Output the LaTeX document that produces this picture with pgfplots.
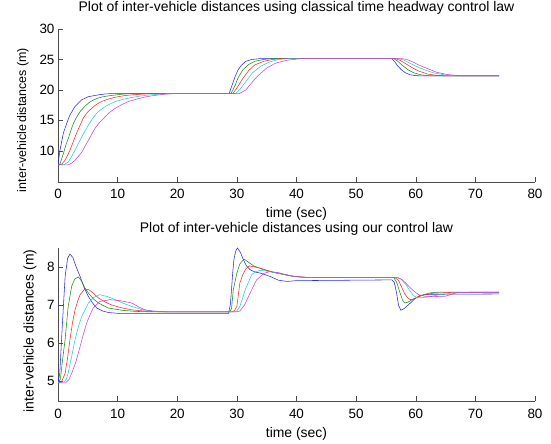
\documentclass[border=0pt]{standalone}
\usepackage{pgfplots}
\pgfplotsset{compat=1.18}
\usepackage{fontspec}
\setmainfont{Liberation Sans}

\definecolor{mblue}{rgb}{0.15,0.15,1}
\definecolor{mgreen}{rgb}{0.1,0.55,0.1}
\definecolor{mred}{rgb}{1,0.15,0.15}
\definecolor{mcyan}{rgb}{0.15,0.8,0.8}
\definecolor{mmag}{rgb}{0.8,0.25,0.85}

\pgfplotsset{
  dist/.style={
    scale only axis,
    width=477bp, height=153bp,
    xmin=0, xmax=80,
    xtick={0,10,...,80},
    axis x line=bottom, axis y line=left,
    axis line style={-, black!70, line width=0.5pt},
    tick style={black!70, line width=0.5pt},
    tick align=inside,
    major tick length=4.5bp,
    /pgf/number format/assume math mode=true,
    tick label style={font=\fontsize{13.5}{15}\selectfont},
    xticklabel style={anchor=base, yshift=-17bp},
    label style={font=\fontsize{14}{16}\selectfont},
    title style={font=\fontsize{14}{16}\selectfont, anchor=base, at={(0.5,1)}},
    xlabel style={at={(0.5,0)}, anchor=base, yshift=-36bp},
    xlabel={time (sec)},
    every axis plot/.append style={line width=0.55pt, mark=none},
  }
}

\begin{document}
\begin{tikzpicture}
\path[use as bounding box] (0,0) rectangle (551bp,444bp);

% classical time headway law
\begin{axis}[dist,
  at={(58bp,262bp)}, anchor=south west,
  ymin=4.9, ymax=30,
  ytick={10,15,20,25,30},
  title={Plot of inter-vehicle distances using classical time headway control law},
  title style={yshift=12bp},
  ylabel={inter-vehicle\,distances (m)},
  ylabel style={at={(axis description cs:0,0.405)}, anchor=center, yshift=35bp,
    font=\fontsize{12.5}{14}\selectfont},
]
\addplot[mblue] coordinates {
(0,7.7)(0.33,10.1)(0.9,12.9)(1.45,14.5)(2.0,15.9)(2.85,17.3)(4,18.4)(5.1,18.9)(6.8,19.2)(8,19.35)(9,19.4)
(28.7,19.4)(29.2,20.8)(29.7,22.2)(30.2,23.3)(30.8,24.1)(31.5,24.7)(32.5,25.0)(34,25.15)
(56,25.15)(56.5,24.6)(57,23.9)(57.6,23.3)(58.3,22.8)(59,22.5)(60,22.35)(61,22.3)(74,22.3)
};
\addplot[mgreen] coordinates {
(0,7.7)(0.3,7.8)(0.9,9.55)(1.3,10.9)(1.73,12.04)(2.15,13.3)(2.57,14.5)(3.1,15.5)(3.7,16.45)(4.4,17.2)
(5.1,17.85)(5.9,18.35)(6.8,18.7)(7.9,18.95)(9,19.1)(10.7,19.3)(12,19.4)
(29,19.4)(29.6,20.5)(30.2,22)(31,23.3)(32,24.2)(33,24.7)(34.5,25)(36,25.15)
(56.3,25.15)(57,24.7)(57.8,24)(58.7,23.3)(59.7,22.8)(61,22.45)(62.5,22.3)(74,22.3)
};
\addplot[mred] coordinates {
(0,7.7)(0.6,7.8)(1.17,8.45)(1.6,9.25)(2.0,10.1)(2.55,11.5)(3.1,12.9)(3.7,14.2)(4.25,15.4)(4.9,16.3)
(5.65,17)(6.4,17.6)(7.3,18.1)(8.4,18.5)(9.6,18.8)(11,19.05)(12.4,19.2)(14,19.3)(15.5,19.4)
(29.3,19.4)(30,20.3)(31,21.9)(32,23.2)(33,24.1)(34.5,24.7)(36,25)(37.5,25.15)
(56.6,25.15)(57.5,24.8)(58.5,24.2)(59.5,23.6)(60.5,23.1)(62,22.6)(63.5,22.4)(65,22.3)(74,22.3)
};
\addplot[mcyan] coordinates {
(0,7.7)(1,7.75)(1.73,8.2)(2.3,9.1)(2.85,10.1)(3.4,11.2)(4,12.3)(4.55,13.3)(5.1,14.25)(5.8,15.3)
(6.5,16.2)(7.4,16.95)(8.4,17.55)(9.5,18.05)(10.7,18.4)(12,18.7)(13.5,18.95)(15,19.15)(16.3,19.25)
(17.5,19.35)(19,19.4)
(29.8,19.4)(30.6,20.2)(31.6,21.5)(32.6,22.8)(34,23.9)(35.5,24.6)(37,25)(39,25.15)
(57,25.15)(58,24.9)(59,24.4)(60,23.9)(61.5,23.3)(63,22.8)(65,22.45)(67,22.3)(74,22.3)
};
\addplot[mmag] coordinates {
(0,7.7)(1.7,7.7)(2.3,8.0)(2.85,8.45)(3.4,9.1)(4,9.8)(4.55,10.8)(5.1,11.75)(5.65,12.75)(6.2,13.7)
(7,14.7)(7.9,15.6)(8.7,16.35)(9.6,17)(10.7,17.6)(11.8,18.1)(13.2,18.5)(14.6,18.85)(16.2,19.1)
(17.9,19.3)(19.5,19.4)
(30.4,19.4)(31.5,20)(32.5,21.2)(33.5,22.3)(35,23.6)(36.5,24.4)(38.5,24.9)(41,25.15)
(57.5,25.15)(58.5,25)(59.5,24.6)(60.5,24.1)(62,23.5)(63.5,22.9)(65.5,22.5)(68,22.3)(74,22.3)
};
\end{axis}

% proposed law
\begin{axis}[dist,
  at={(58bp,43bp)}, anchor=south west,
  ymin=4.47, ymax=8.5,
  ytick={5,6,7,8},
  title={Plot of inter-vehicle distances using our control law},
  title style={yshift=10bp},
  ylabel={inter-vehicle distances (m)},
  ylabel style={at={(axis description cs:0,0.457)}, anchor=center, yshift=28bp},
]
\addplot[mblue] coordinates {
(0,4.95)(0.3,5.2)(0.6,6.1)(0.9,6.95)(1.2,7.75)(1.6,8.22)(2.0,8.34)(2.5,8.25)(3,8.02)(3.7,7.75)
(4.4,7.45)(5.1,7.22)(5.8,7.05)(6.5,6.92)(7.5,6.84)(8.5,6.8)(10,6.78)
(28.6,6.78)(28.9,7.0)(29.1,7.4)(29.3,7.85)(29.5,8.19)(29.8,8.42)(30.1,8.5)(30.6,8.38)(31.1,8.19)
(31.6,8.03)(32.2,7.93)(33,7.87)(33.9,7.84)(35.6,7.75)(37,7.65)(38.4,7.62)(40,7.64)
(56,7.66)(56.4,7.6)(56.8,7.3)(57.1,7.0)(57.5,6.86)(58,6.9)(58.6,6.98)(59.1,7.05)(59.9,7.17)
(60.7,7.25)(62,7.28)(74,7.29)
};
\addplot[mgreen] coordinates {
(0,4.95)(0.4,5.05)(0.8,5.6)(1.2,6.1)(1.7,6.95)(2.3,7.5)(2.8,7.68)(3.4,7.74)(4,7.62)(4.5,7.45)
(5.1,7.31)(6,7.15)(6.8,7.05)(8.4,6.92)(10.7,6.86)(13,6.83)(15,6.82)
(28.8,6.82)(29.1,6.9)(29.4,7.4)(30,7.84)(30.5,8.08)(31.2,8.21)(32,8.12)(32.8,8.03)(34.4,7.93)
(36.7,7.84)(39.5,7.75)(42,7.72)
(56.3,7.72)(56.8,7.6)(57.3,7.35)(57.8,7.12)(58.2,7.05)(58.8,7.08)(59.6,7.16)(60.5,7.22)(61.3,7.27)
(62.5,7.32)(64,7.34)(74,7.34)
};
\addplot[mred] coordinates {
(0,4.95)(0.6,4.98)(1.2,5.2)(1.6,5.6)(2,6.08)(2.4,6.5)(2.85,6.87)(3.3,7.1)(3.7,7.27)(4.5,7.42)
(5.2,7.4)(6,7.3)(6.8,7.18)(8,7.07)(9,7.0)(10.5,6.93)(12.4,6.87)(15.2,6.83)(17,6.82)
(29.2,6.82)(29.6,6.85)(30,6.96)(30.5,7.58)(31,7.8)(31.5,7.95)(32.1,8.03)(33,8.0)(33.9,7.97)
(36.1,7.86)(38.9,7.77)(42,7.72)
(56.5,7.72)(57.1,7.65)(57.6,7.48)(58.2,7.28)(58.7,7.18)(59.1,7.14)(59.8,7.16)(60.5,7.22)(61.5,7.27)
(63,7.31)(66,7.33)(74,7.34)
};
\addplot[mcyan] coordinates {
(0,4.95)(1,4.97)(1.4,5.05)(1.7,5.2)(2.3,5.65)(2.85,6.08)(3.4,6.42)(4,6.7)(5.1,7.05)(6,7.2)
(7,7.27)(8.3,7.22)(9.6,7.14)(11,7.04)(12.4,6.96)(14,6.88)(15.7,6.84)(18,6.82)
(29.6,6.82)(30,6.84)(30.5,6.96)(31,7.2)(31.4,7.4)(32,7.62)(32.5,7.8)(33.2,7.88)(33.9,7.91)
(35,7.89)(36.7,7.84)(40,7.74)(43,7.72)
(56.8,7.72)(57.5,7.68)(58.3,7.55)(59,7.38)(59.6,7.25)(60.2,7.19)(61,7.19)(62.4,7.22)(64,7.27)
(66,7.31)(68,7.33)(74,7.33)
};
\addplot[mmag] coordinates {
(0,4.95)(1.3,4.95)(1.8,5.03)(2.3,5.2)(3,5.5)(3.7,5.9)(4.3,6.25)(4.8,6.52)(5.4,6.75)(5.9,6.92)
(7,7.09)(8.7,7.14)(10.5,7.11)(12.4,7.05)(13.5,6.95)(14.6,6.87)(16,6.84)(18,6.82)
(30,6.82)(30.5,6.84)(31.3,7.0)(32.2,7.31)(33.3,7.66)(34.5,7.83)(35.6,7.88)(37,7.85)(39.5,7.75)
(42,7.72)
(57,7.72)(57.6,7.68)(58.3,7.58)(59.1,7.45)(59.8,7.35)(60.5,7.27)(61.5,7.23)(63,7.22)(65,7.23)
(66,7.28)(67,7.33)(74,7.33)
};
\end{axis}
\end{tikzpicture}
\end{document}
